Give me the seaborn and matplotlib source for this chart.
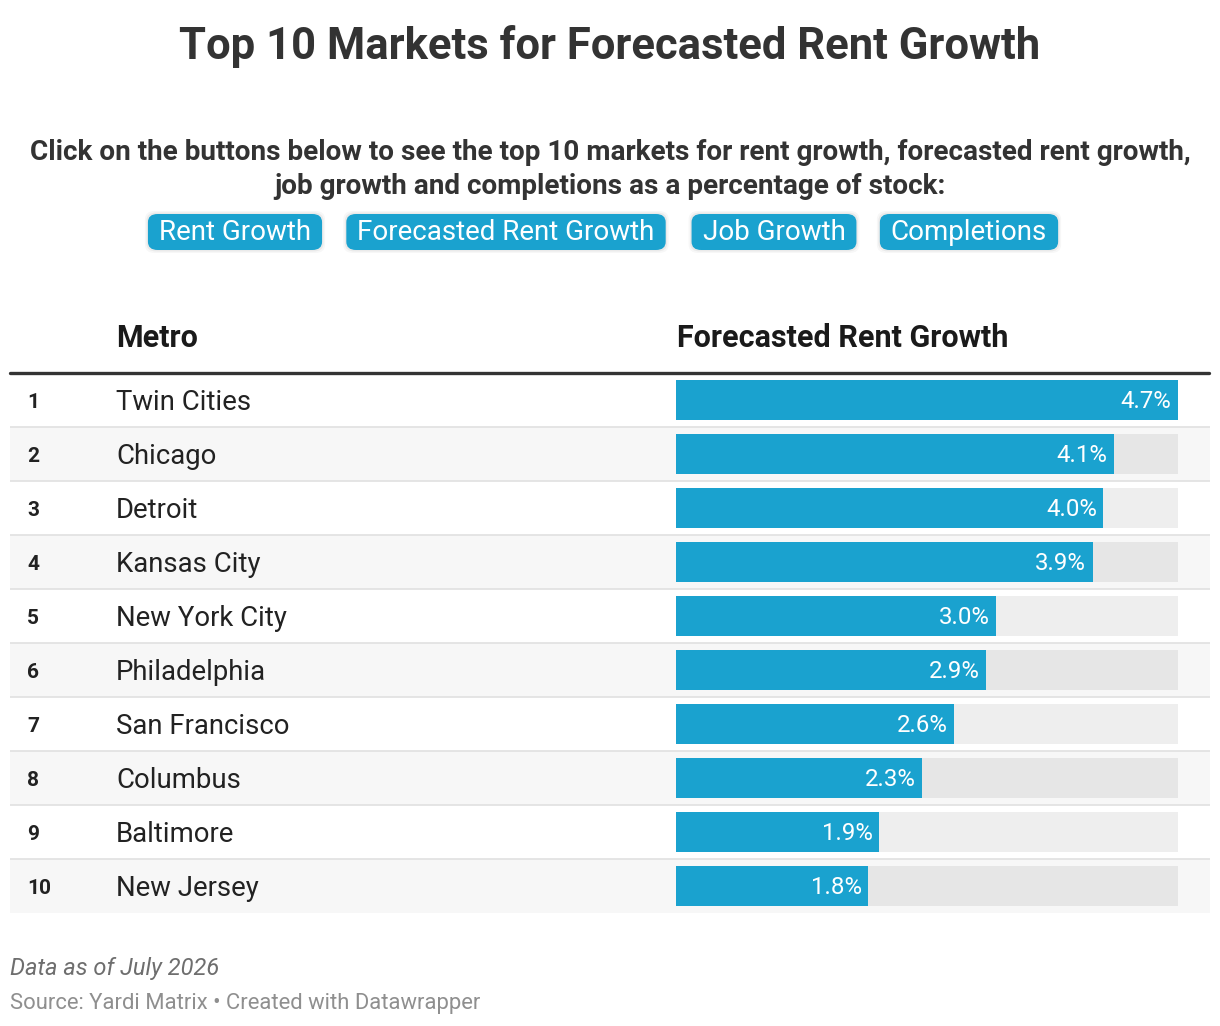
import matplotlib
import matplotlib.pyplot as plt
import matplotlib.transforms as mtransforms
import seaborn as sns
import pandas as pd
from matplotlib.patches import FancyBboxPatch

matplotlib.use('Agg')

# chart data
ranks = [1, 2, 3, 4, 5, 6, 7, 8, 9, 10]
metros = ['Twin Cities', 'Chicago', 'Detroit', 'Kansas City', 'New York City',
          'Philadelphia', 'San Francisco', 'Columbus', 'Baltimore', 'New Jersey']
growth = [4.7, 4.1, 4.0, 3.9, 3.0, 2.9, 2.6, 2.3, 1.9, 1.8]
buttons = ['Rent Growth', 'Forecasted Rent Growth', 'Job Growth', 'Completions']

BLUE = '#1aa2cf'
W, H = 1220, 1026

sns.set_theme(style='white')
plt.rcParams['font.family'] = ['Roboto', 'DejaVu Sans']

df = pd.DataFrame({'rank': ranks, 'metro': metros, 'growth': growth})
df['track'] = max(growth)

fig = plt.figure(figsize=(W / 100, H / 100), dpi=100)
fig.patch.set_facecolor('white')


def fx(x):
    return x / W


def fy(y):
    return 1 - y / H


# table area
top, bottom = 373, 913
ax_tab = fig.add_axes([fx(10), fy(bottom), fx(1200), (bottom - top) / H])
ax_tab.set_xlim(10, 1210)
ax_tab.set_ylim(len(df), 0)
ax_tab.axis('off')
for i in range(len(df)):
    if i % 2 == 1:
        ax_tab.axhspan(i, i + 1, color='#f7f7f7', lw=0, zorder=0)
    if i > 0:
        ax_tab.axhline(i, color='#e3e3e3', lw=1.3, zorder=1)
ax_tab.axhline(0, xmax=0.9995, color='#333333', lw=2.4, zorder=2, clip_on=False)
tab_tr = mtransforms.offset_copy(ax_tab.transData, fig=fig, y=-2, units='dots')
for i, row in df.iterrows():
    ax_tab.text(27, i + 0.5, str(row['rank']), fontsize=15, fontweight='bold',
                color='#222222', va='center', ha='left', transform=tab_tr)
    ax_tab.text(116, i + 0.5, row['metro'], fontsize=19.8, color='#222222',
                va='center', ha='left', transform=tab_tr)

# bar area
ax_bar = fig.add_axes([fx(676), fy(bottom), fx(502), (bottom - top) / H])
track_cols = ['#eeeeee' if i % 2 == 0 else '#e6e6e6' for i in range(len(df))]
sns.barplot(data=df, x='track', y='metro', hue='metro', palette=track_cols,
            orient='h', width=0.74, legend=False, ax=ax_bar, saturation=1,
            linewidth=0)
sns.barplot(data=df, x='growth', y='metro', color=BLUE, orient='h',
            width=0.74, ax=ax_bar, saturation=1, linewidth=0)
ax_bar.set_xlim(0, max(growth))
ax_bar.set_ylim(len(df) - 0.5, -0.5)
ax_bar.axis('off')
bar_tr = mtransforms.offset_copy(ax_bar.transData, fig=fig, y=-2, units='dots')
for i, v in enumerate(growth):
    ax_bar.text(v - 0.06, i, f'{v:.1f}%', color='white', fontsize=17.3,
                ha='right', va='center', transform=bar_tr)

# headers
fig.text(fx(116), fy(338), 'Metro', fontsize=22, fontweight='bold',
         color='#1a1a1a', va='center', ha='left')
fig.text(fx(677), fy(338), 'Forecasted Rent Growth', fontsize=22,
         fontweight='bold', color='#1a1a1a', va='center', ha='left')

# title and description
fig.text(0.5, fy(47), 'Top 10 Markets for Forecasted Rent Growth', fontsize=31.4,
         fontweight='bold', color='#333333', ha='center', va='center')
fig.text(0.5, fy(153), 'Click on the buttons below to see the top 10 markets for '
         'rent growth, forecasted rent growth,', fontsize=20.1, fontweight='bold',
         color='#333333', ha='center', va='center')
fig.text(0.5, fy(187), 'job growth and completions as a percentage of stock:',
         fontsize=20.1, fontweight='bold', color='#333333', ha='center', va='center')

# buttons
btn_centers = [235, 506, 774, 969]
btn_texts = []
for label, cx in zip(buttons, btn_centers):
    t = fig.text(fx(cx), fy(233), label, fontsize=20, color='white',
                 ha='center', va='center', zorder=5)
    btn_texts.append(t)
fig.canvas.draw()
renderer = fig.canvas.get_renderer()
for t in btn_texts:
    bb = t.get_window_extent(renderer)
    x0, x1 = bb.x0 - 11, bb.x1 + 11
    y0, y1 = fy(250) * H, fy(214) * H
    for k, a in [(6, 0.03), (3, 0.05)]:
        fig.patches.append(FancyBboxPatch(
            (fx(x0 - k / 2), (y0 - k / 2) / H), fx(x1 - x0 + k), (y1 - y0 + k) / H,
            boxstyle='round,pad=0,rounding_size=0.008', transform=fig.transFigure,
            fc='black', ec='none', alpha=a, zorder=3))
    fig.patches.append(FancyBboxPatch(
        (fx(x0), y0 / H), fx(x1 - x0), (y1 - y0) / H,
        boxstyle='round,pad=0,rounding_size=0.008', transform=fig.transFigure,
        fc=BLUE, ec='none', zorder=4))

# footer
fig.text(fx(10), fy(968), 'Data as of July 2026', fontsize=17, style='italic',
         color='#6e6e6e', ha='left', va='center')
fig.text(fx(10), fy(1004), 'Source: Yardi Matrix \u2022 Created with Datawrapper',
         fontsize=15.8, color='#8f8f8f', ha='left', va='center')

fig.savefig('out.png', dpi=100, facecolor='white')
